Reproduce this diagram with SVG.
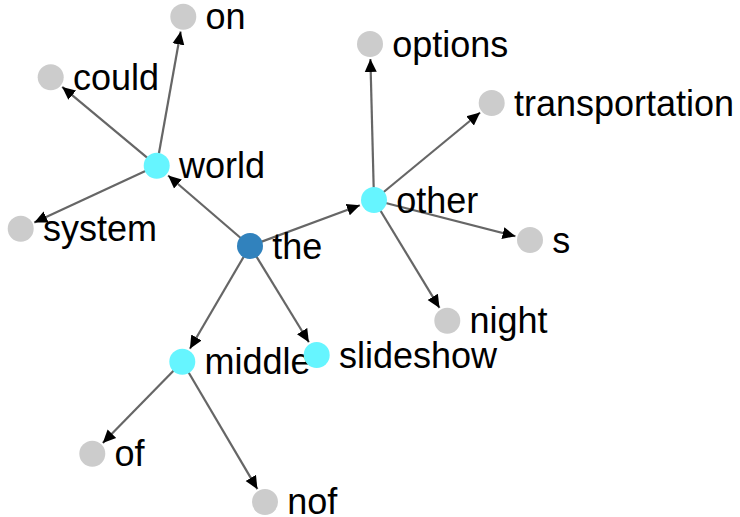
<svg xmlns="http://www.w3.org/2000/svg" width="740" height="517" viewBox="0 0 740 517">
<style>
.link{stroke:#666;stroke-width:2.2;fill:none;marker-end:url(#arrow)}
.node circle{stroke:none}
.root circle{fill:#3182bd}
.mid circle{fill:#66f5ff}
.leaf circle{fill:#cccccc}
.node text{font-family:"Liberation Sans",Arial,sans-serif;font-size:36px;fill:#000}
</style>
<defs>
<marker id="arrow" markerUnits="userSpaceOnUse" viewBox="0 -7 13 14" refX="13" refY="0" markerWidth="13" markerHeight="14" orient="auto">
<path d="M0,-6L13,0L0,6Z" fill="#000"/>
</marker>
</defs>
<rect width="740" height="517" fill="#fff"/>
<g id="links">
<line class="link" x1="250" y1="246" x2="168.1" y2="175.5"/>
<line class="link" x1="250" y1="246" x2="359.9" y2="205.2"/>
<line class="link" x1="250" y1="246" x2="189.9" y2="348.8"/>
<line class="link" x1="250" y1="246" x2="308.9" y2="342.2"/>
<line class="link" x1="156.7" y1="165.7" x2="180.7" y2="31.5"/>
<line class="link" x1="156.7" y1="165.7" x2="62.2" y2="86.9"/>
<line class="link" x1="156.7" y1="165.7" x2="34.3" y2="222.4"/>
<line class="link" x1="374" y1="200" x2="370.4" y2="59"/>
<line class="link" x1="374" y1="200" x2="480.1" y2="112.5"/>
<line class="link" x1="374" y1="200" x2="515.5" y2="236.3"/>
<line class="link" x1="374" y1="200" x2="439.5" y2="307.9"/>
<line class="link" x1="182.3" y1="361.7" x2="102.8" y2="443"/>
<line class="link" x1="182.3" y1="361.7" x2="257.4" y2="489.1"/>
</g>
<g id="node-on" class="node leaf"><circle cx="183.3" cy="16.7" r="13"/><text x="205.5" y="29.3">on</text></g>
<g id="node-could" class="node leaf"><circle cx="50.7" cy="77.3" r="13"/><text x="72.9" y="89.9">could</text></g>
<g id="node-system" class="node leaf"><circle cx="20.7" cy="228.7" r="13"/><text x="42.9" y="241.3">system</text></g>
<g id="node-options" class="node leaf"><circle cx="370" cy="44" r="13"/><text x="392.2" y="56.6">options</text></g>
<g id="node-transportation" class="node leaf"><circle cx="491.7" cy="103" r="13"/><text x="513.9" y="115.6">transportation</text></g>
<g id="node-s" class="node leaf"><circle cx="530" cy="240" r="13"/><text x="552.2" y="252.6">s</text></g>
<g id="node-night" class="node leaf"><circle cx="447.3" cy="320.7" r="13"/><text x="469.5" y="333.3">night</text></g>
<g id="node-of" class="node leaf"><circle cx="92.3" cy="453.7" r="13"/><text x="114.5" y="466.3">of</text></g>
<g id="node-nof" class="node leaf"><circle cx="265" cy="502" r="13"/><text x="287.2" y="514.4">nof</text></g>
<g id="node-world" class="node mid"><circle cx="156.7" cy="165.7" r="13"/><text x="178.9" y="178.3">world</text></g>
<g id="node-other" class="node mid"><circle cx="374" cy="200" r="13"/><text x="396.2" y="212.6">other</text></g>
<g id="node-middle" class="node mid"><circle cx="182.3" cy="361.7" r="13"/><text x="204.5" y="374.3">middle</text></g>
<g id="node-slideshow" class="node mid"><circle cx="316.7" cy="355" r="13"/><text x="338.9" y="367.6">slideshow</text></g>
<g id="node-the" class="node root"><circle cx="250" cy="246" r="13"/><text x="272.2" y="258.6">the</text></g>
</svg>
